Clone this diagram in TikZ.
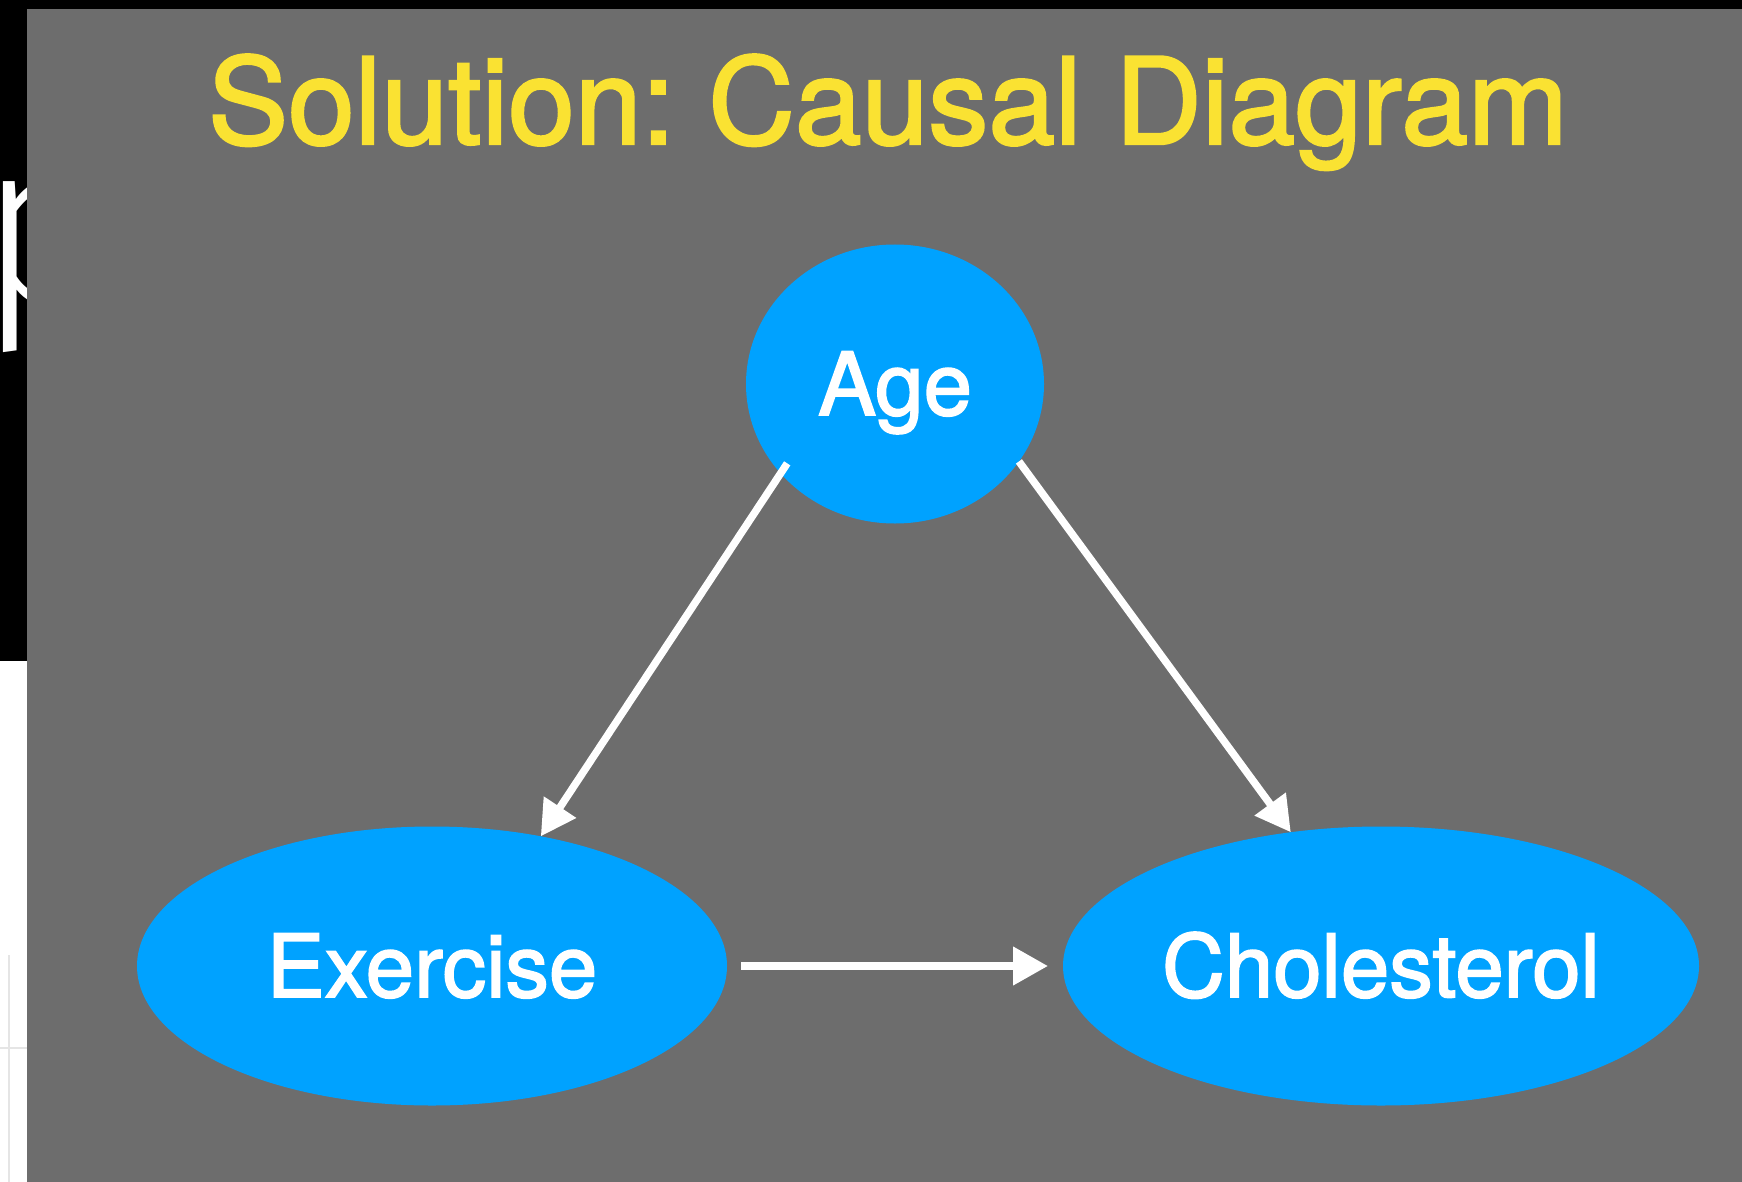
\documentclass[tikz,border=0pt]{standalone}
\usepackage{fontspec}
\setsansfont{TeX Gyre Heros}[RawFeature={embolden=2}]
\newfontfamily\lightfont{Fira Sans Light}
\usetikzlibrary{arrows.meta, shapes.geometric}

\definecolor{slidegray}{RGB}{109,109,109}
\definecolor{nodeblue}{RGB}{0,162,255}
\definecolor{titleyellow}{RGB}{250,226,50}

\tikzset{
  var/.style={ellipse, fill=nodeblue, text=white, inner sep=0pt, outer sep=0pt, minimum height=279pt,
    font=\sffamily\fontsize{87}{100}\selectfont, text height=62pt, text depth=0pt},
  cause/.style={draw=white, line width=7.5pt, -{Triangle[length=35pt, width=37pt]}},
}

\frenchspacing
\begin{document}
\begin{tikzpicture}[x=1pt, y=-1pt, font=\sffamily]
	\useasboundingbox (0,0) rectangle (1742,1182);

	% slide behind
	\fill[white] (0,0) rectangle (1742,1182);
	\fill[black] (0,0) rectangle (1742,9);
	\fill[black] (0,0) rectangle (27,661);
	\draw[gray!20, line width=2pt] (9,955) -- (9,1182);
	\draw[gray!20, line width=2pt] (0,1048) -- (27,1048);
	\begin{scope}
		\clip (0,9) rectangle (27,661);
		\node[anchor=base west, text=white, inner sep=0pt, font=\lightfont\fontsize{235}{250}\selectfont] (pfrag) at (-22,305) {p};
	\end{scope}

	% slide
	\fill[slidegray] (27,9) rectangle (1742,1182);
	\node[anchor=base, text=titleyellow, inner sep=0pt, font=\sffamily\fontsize{120}{140}\selectfont] (title) at (888,144) {Solution: Causal Diagram};

	% variables
	\node[var, minimum width=298pt] (age) at (895,384) {Age};
	\node[var, minimum width=590pt] (exercise) at (432,966) {Exercise};
	\node[var, minimum width=636pt] (chol) at (1381,966) {Cholesterol};

	% causal arrows
	\draw[cause, shorten <=-12pt] (age.218.6) -- (exercise.50);
	\draw[cause] (age.328.4) -- (chol.124);
	\draw[cause, shorten <=14pt, shorten >=15pt] (exercise.east) -- (chol.west);

\end{tikzpicture}
\end{document}
